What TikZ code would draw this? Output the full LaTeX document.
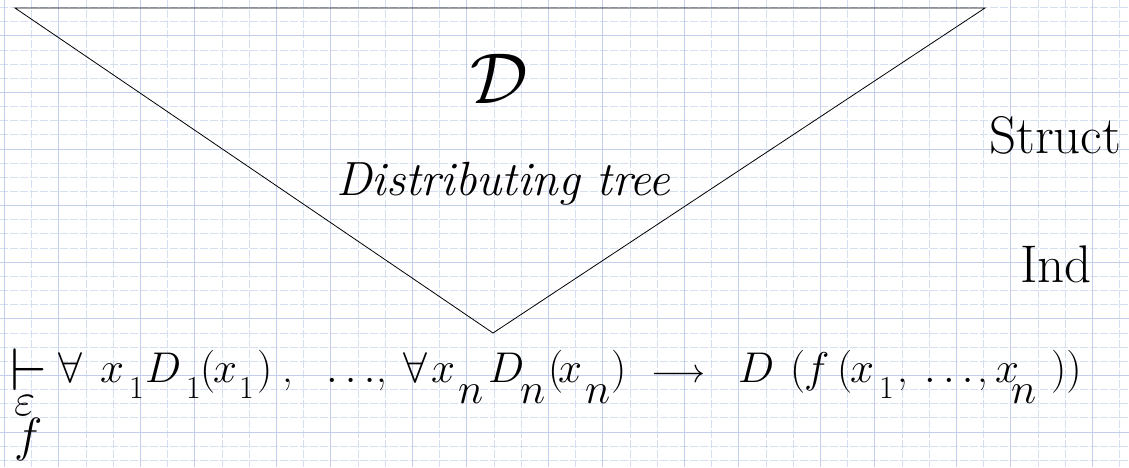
\RequirePackage{fix-cm}
\documentclass[tikz,border=0pt]{standalone}
\usetikzlibrary{positioning}
\definecolor{gridmajor}{HTML}{C3CEEC}
\definecolor{gridminor}{HTML}{D6DEF2}

\begin{document}
\begin{tikzpicture}[
    x=1pt, y=-1pt,
    majorline/.style={draw=gridmajor, line width=0.9pt},
    minorline/.style={draw=gridminor, line width=0.9pt, dash pattern=on 8pt off 2pt},
    treeline/.style={draw=black, line width=0.8pt},
    label/.style={anchor=base west, inner sep=0pt, font=\fontsize{53}{60}\selectfont},
    treetxt/.style={anchor=base west, inner sep=0pt, font=\fontsize{48}{54}\selectfont\itshape},
    fml/.style={anchor=base west, inner sep=0pt, font=\fontsize{43}{50}\selectfont},
    subone/.style={anchor=base west, inner sep=0pt, font=\fontsize{32}{36}\selectfont},
]
\useasboundingbox (0,0) rectangle (1129,467);

% Grid paper
\foreach \k in {0,...,41} \draw[minorline] ({4.5+27.2*\k},0) -- ({4.5+27.2*\k},467);
\foreach \j in {0,...,32} \draw[minorline] (0,{7.5+14.15*\j}) -- (1129,{7.5+14.15*\j});
\foreach \k in {0,5,...,40} \draw[majorline] ({4.5+27.2*\k},0) -- ({4.5+27.2*\k},467);
\foreach \k in {2,7,...,42} \draw[majorline] ({4.5+27.2*\k},0) -- ({4.5+27.2*\k},467);
\foreach \j in {2,6,...,30} \draw[majorline] (0,{7.5+14.15*\j}) -- (1129,{7.5+14.15*\j});

% Distributing tree
\coordinate (topleft) at (15,8);
\coordinate (topright) at (985,8);
\coordinate (apex) at (493,333);
\draw[treeline] (topleft) -- (topright) -- (apex) -- cycle;

\node[inner sep=0pt, font=\fontsize{72}{80}\selectfont] (calD) at (499,79) {$\mathcal{D}$};
\node[treetxt] (treename) at (336,195) {Distributing tree};

% Side labels
\node[label] (struct) at (989,153) {Struct};
\node[label] (ind) at (1020,282) {Ind};

% Sequent
\node[anchor=base west, inner sep=0pt, font=\fontsize{60}{66}\selectfont] (turnstile) at (10,390) {$\vdash$};
\node[fml, font=\fontsize{46}{52}\selectfont] (eps) at (14,415) {$\varepsilon$};
\node[fml, font=\fontsize{48}{54}\selectfont] (fsub) at (14,451) {$f$};

\node[fml] (forallA) at (58,382) {$\forall$};
\node[fml] (xA) at (100,382) {$x$};
\node[subone] (xAsub) at (129,398) {1};
\node[fml] (DA) at (145,382) {$D$};
\node[subone] (DAsub) at (186,398) {1};
\node[fml] (lpA) at (200,382) {$($};
\node[fml] (xAarg) at (213,382) {$x$};
\node[subone] (xAargsub) at (239,398) {1};
\node[fml] (rpA) at (257,382) {$)$};
\node[fml] (commaA) at (282,382) {,};
\node[fml] (dotsA) at (326,382) {$\dots$};
\node[fml] (commaB) at (376,382) {,};

\node[fml] (forallB) at (403,382) {$\forall$};
\node[fml] (xB) at (431,382) {$x$};
\node[fml] (xBsub) at (458,403) {$n$};
\node[fml] (DB) at (488,382) {$D$};
\node[fml] (DBsub) at (520,403) {$n$};
\node[fml] (lpB) at (548,382) {$($};
\node[fml] (xBarg) at (558,382) {$x$};
\node[fml] (xBargsub) at (585,403) {$n$};
\node[fml] (rpB) at (611,382) {$)$};

\node[fml, font=\fontsize{34}{40}\selectfont] (impl) at (651,382) {$\longrightarrow$};

\node[fml] (DC) at (738,382) {$D$};
\node[fml] (lpC) at (790,382) {$($};
\node[fml] (fC) at (804,382) {$f$};
\node[fml] (lpD) at (837,382) {$($};
\node[fml] (xC) at (850,382) {$x$};
\node[subone] (xCsub) at (879,398) {1};
\node[fml] (commaC) at (897,382) {,};
\node[fml] (dotsC) at (924,382) {$\dots$};
\node[fml] (commaD) at (977,382) {,};
\node[fml] (xD) at (995,382) {$x$};
\node[fml] (xDsub) at (1011,403) {$n$};
\node[fml] (rpC) at (1051,382) {$))$};

\end{tikzpicture}
\end{document}
